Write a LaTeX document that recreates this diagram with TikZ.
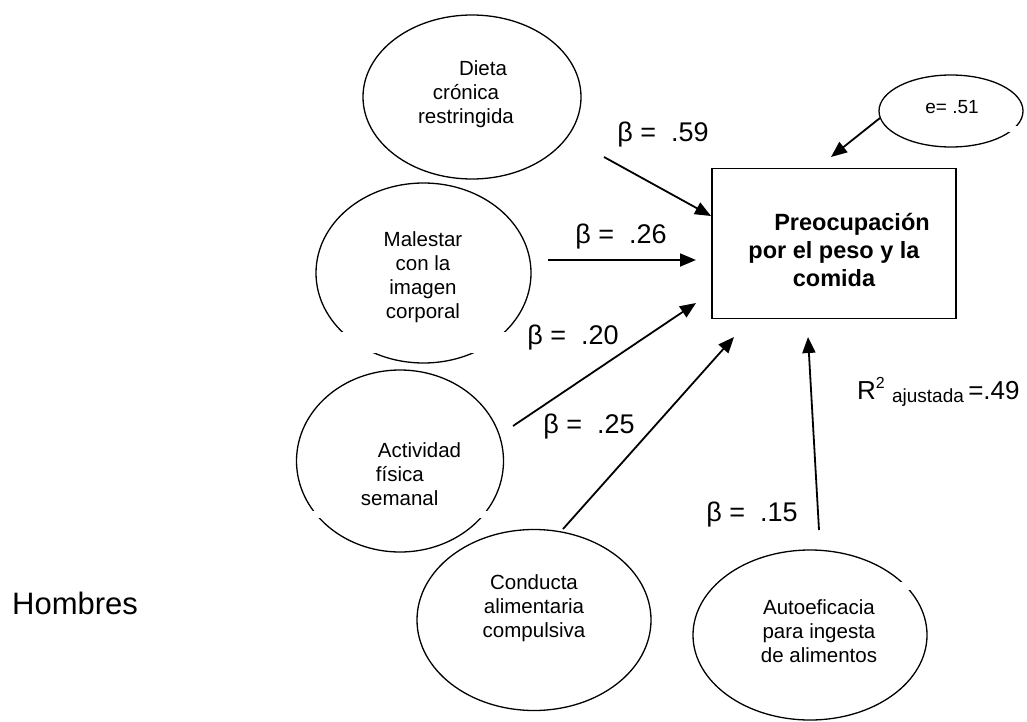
\documentclass[tikz,border=0pt]{standalone}
\usepackage{fontspec}
\setmainfont{Liberation Sans}
\usetikzlibrary{shapes.geometric,arrows.meta}

\begin{document}
\begin{tikzpicture}[x=1pt,y=-1pt,
  latent/.style={draw,ellipse,line width=1.3pt,inner sep=0pt},
  lbl/.style={font=\fontsize{20.5}{24}\selectfont,align=center,inner sep=0pt},
  coef/.style={font=\fontsize{27}{30}\selectfont,inner sep=0pt},
  effect/.style={line width=1.8pt,-{Triangle[length=16pt,width=13pt]}},
  gap/.style={fill=white,draw=none},
]
\useasboundingbox[fill=white] (0,0) rectangle (1027,722);

% latent variables
\node[latent,minimum width=218,minimum height=164] (dieta) at (472,97) {};
\node[latent,minimum width=215,minimum height=180] (malestar) at (423.5,273) {};
\node[latent,minimum width=207,minimum height=182] (actividad) at (400,461) {};
\node[latent,minimum width=234,minimum height=181] (conducta) at (534,620) {};
\node[latent,minimum width=234,minimum height=170] (autoef) at (810,635) {};
\node[latent,minimum width=144,minimum height=72] (err) at (951,111) {};

% breaks in the outlines
\fill[gap] (335,332) rectangle (514,353);
\fill[gap] (305,511) rectangle (326,518);
\fill[gap] (474,511) rectangle (495,518);
\fill[gap] (898,582) rectangle (922,590);
\fill[gap] (1000,126) rectangle (1027,132);

% dependent variable
\node[draw,line width=1.5pt,minimum width=244,minimum height=150,inner sep=0pt] (dep) at (834,243.5) {};

% texts
\node[lbl] (tdieta) at (466,94) {\hspace*{34pt}Dieta\\crónica\\restringida};
\node[lbl] (tmalestar) at (423,277) {Malestar\\con la\\imagen\\corporal};
\node[lbl,align=left] (tactividad) at (411,474) {\hspace*{17pt}Actividad\\\hspace*{15pt}física\\semanal};
\node[lbl] (tconducta) at (534,608) {Conducta\\alimentaria\\compulsiva};
\node[lbl] (tautoef) at (819,631) {Autoeficacia\\para ingesta\\de alimentos};
\node[inner sep=0pt,font=\fontsize{19}{22}\selectfont] (terr) at (952,107) {e= .51};
\node[inner sep=0pt,align=center,font=\fontsize{23.5}{28}\selectfont\bfseries] (tdep) at (834,250)
  {\hspace*{36pt}Preocupación\\por el peso y la\\comida};

% path end points
\coordinate (a1s) at (604,157); \coordinate (a1e) at (711,216);
\coordinate (a2s) at (548,260); \coordinate (a2e) at (696,260);
\coordinate (a3s) at (513,426); \coordinate (a3e) at (696,303);
\coordinate (a4s) at (563,529); \coordinate (a4e) at (734,337);
\coordinate (a5s) at (819,530); \coordinate (a5e) at (808,337);
\coordinate (a6s) at (880,118); \coordinate (a6e) at (831,157);

\draw[effect] (a1s) -- (a1e);
\draw[effect] (a2s) -- (a2e);
\draw[effect] (a3s) -- (a3e);
\draw[effect] (a4s) -- (a4e);
\draw[effect] (a5s) -- (a5e);
\draw[effect] (a6s) -- (a6e);

% coefficients
\node[coef] (b1) at (663,135) {β =\ \ .59};
\node[coef] (b2) at (621,237) {β =\ \ .26};
\node[coef] (b3) at (573,338) {β =\ \ .20};
\node[coef] (b4) at (589,427) {β =\ \ .25};
\node[coef] (b5) at (752,515) {β =\ \ .15};

\node[inner sep=0pt,anchor=west,font=\fontsize{26}{30}\selectfont] (r2) at (857,392)
  {R\raisebox{11.5pt}{\fontsize{16}{18}\selectfont 2}\ \raisebox{-3pt}{\fontsize{19}{22}\selectfont ajustada}\,=.49};

\node[inner sep=0pt,anchor=west,font=\fontsize{31}{34}\selectfont] (grp) at (12,603) {Hombres};
\end{tikzpicture}
\end{document}
